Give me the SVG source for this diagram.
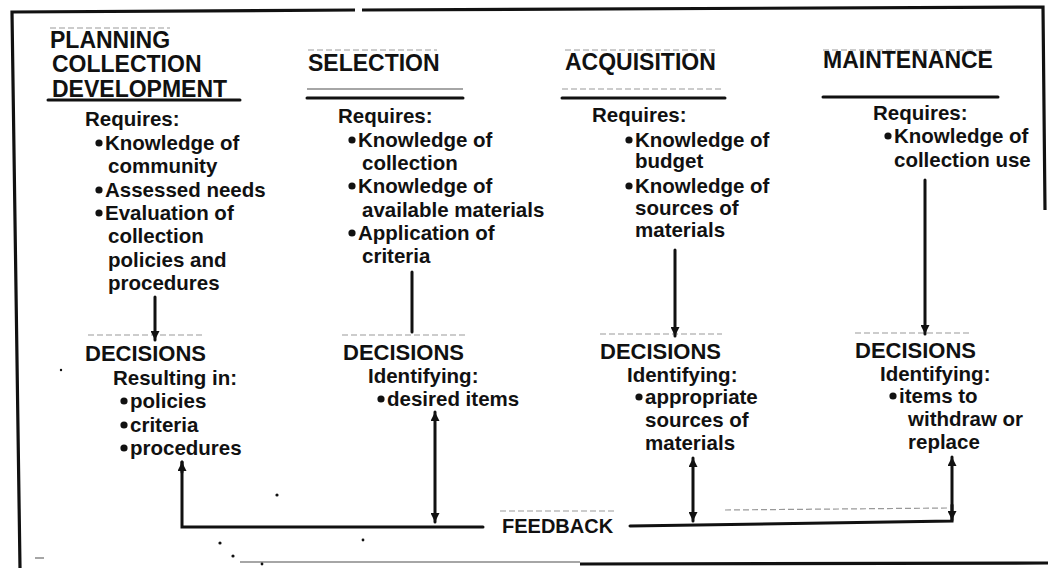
<svg xmlns="http://www.w3.org/2000/svg" width="1050" height="568" viewBox="0 0 1050 568">
<defs>
<style>
text{font-family:"Liberation Sans",Arial,sans-serif;font-weight:bold;fill:#111}
.h{font-size:23px}
.d{font-size:22px}
.b{font-size:20.5px}
.fb{font-size:20px}
.ln{stroke:#111;stroke-width:3;fill:none;stroke-linecap:round}
.bd{stroke:#111;stroke-width:3.2;fill:none}
.gr{stroke:#999;stroke-width:1.2;fill:none;stroke-dasharray:6 3}
.gs{stroke:#888;stroke-width:1.5;fill:none}
.dot{fill:#111}
</style>
<marker id="ah" viewBox="0 0 10 10" refX="10" refY="5" markerWidth="15" markerHeight="9" markerUnits="userSpaceOnUse" orient="auto-start-reverse">
<path d="M0,0 L10,5 L0,10 z" fill="#111"/>
</marker>
</defs>
<rect width="1050" height="568" fill="#fff"/>

<g id="frame">
<path class="bd" d="M20,568 L12,12 L355,10"/>
<path class="bd" d="M362,10 L1043,7 L1045,210"/>
<path class="gs" d="M240,562 L580,562"/>
<path class="bd" d="M580,564 L1048,563"/>
<path class="gs" d="M35,558 L44,558"/>
<circle class="dot" cx="277" cy="495" r="1.6"/>
<circle class="dot" cx="220" cy="543" r="1.6"/>
<circle class="dot" cx="233" cy="556" r="1.6"/>
<circle class="dot" cx="262" cy="564" r="1.4"/>
<circle class="dot" cx="363" cy="540" r="1.4"/>
<circle class="dot" cx="61" cy="370" r="1.2"/>
</g>

<g id="guides">
<path class="gr" d="M50,28 L170,28"/>
<path class="gr" d="M308,50 L437,50"/>
<path class="gr" d="M565,50 L717,50"/>
<path class="gr" d="M823,50 L993,50"/>
<path class="gs" d="M307,89 L463,89"/>
<path class="gr" d="M562,89 L723,89"/>
<path class="gr" d="M88,335 L205,335"/>
<path class="gr" d="M342,335 L465,335"/>
<path class="gr" d="M600,334 L722,334"/>
<path class="gr" d="M855,333 L972,333"/>
<path class="gr" d="M500,511 L616,511"/>
<path class="gr" d="M725,510 L949,508"/>
</g>

<g id="planning">
<text class="h" x="50" y="48">PLANNING</text>
<text class="h" x="52" y="72">COLLECTION</text>
<text class="h" x="52" y="97">DEVELOPMENT</text>
<path class="ln" d="M48,100 L240,100"/>
<text class="b" x="85" y="126">Requires:</text>
<circle class="dot" cx="99" cy="143" r="3.6"/>
<text class="b" x="105" y="150">Knowledge of</text>
<text class="b" x="108" y="173">community</text>
<circle class="dot" cx="99" cy="190" r="3.6"/>
<text class="b" x="105" y="197">Assessed needs</text>
<circle class="dot" cx="99" cy="213" r="3.6"/>
<text class="b" x="105" y="220">Evaluation of</text>
<text class="b" x="108" y="243">collection</text>
<text class="b" x="108" y="267">policies and</text>
<text class="b" x="108" y="290">procedures</text>
<text class="d" x="85" y="361">DECISIONS</text>
<text class="b" x="113" y="385">Resulting in:</text>
<circle class="dot" cx="124" cy="401" r="3.6"/>
<text class="b" x="130" y="408">policies</text>
<circle class="dot" cx="124" cy="425" r="3.6"/>
<text class="b" x="130" y="432">criteria</text>
<circle class="dot" cx="124" cy="448" r="3.6"/>
<text class="b" x="130" y="455">procedures</text>
</g>

<g id="selection">
<text class="h" x="308" y="71">SELECTION</text>
<path class="ln" d="M307,98 L463,98"/>
<text class="b" x="338" y="123">Requires:</text>
<circle class="dot" cx="352" cy="140" r="3.6"/>
<text class="b" x="358" y="147">Knowledge of</text>
<text class="b" x="362" y="170">collection</text>
<circle class="dot" cx="352" cy="186" r="3.6"/>
<text class="b" x="358" y="193">Knowledge of</text>
<text class="b" x="362" y="217">available materials</text>
<circle class="dot" cx="352" cy="233" r="3.6"/>
<text class="b" x="358" y="240">Application of</text>
<text class="b" x="362" y="263">criteria</text>
<text class="d" x="343" y="360">DECISIONS</text>
<text class="b" x="368" y="383">Identifying:</text>
<circle class="dot" cx="381" cy="399" r="3.6"/>
<text class="b" x="387" y="406">desired items</text>
</g>

<g id="acquisition">
<text class="h" x="565" y="70">ACQUISITION</text>
<path class="ln" d="M562,98 L725,98"/>
<text class="b" x="592" y="122">Requires:</text>
<circle class="dot" cx="629" cy="140" r="3.6"/>
<text class="b" x="635" y="147">Knowledge of</text>
<text class="b" x="635" y="168">budget</text>
<circle class="dot" cx="629" cy="186" r="3.6"/>
<text class="b" x="635" y="193">Knowledge of</text>
<text class="b" x="635" y="215">sources of</text>
<text class="b" x="635" y="237">materials</text>
<text class="d" x="600" y="359">DECISIONS</text>
<text class="b" x="627" y="382">Identifying:</text>
<circle class="dot" cx="639" cy="397" r="3.6"/>
<text class="b" x="645" y="404">appropriate</text>
<text class="b" x="645" y="427">sources of</text>
<text class="b" x="645" y="450">materials</text>
</g>

<g id="maintenance">
<text class="h" x="823" y="68">MAINTENANCE</text>
<path class="ln" d="M823,97 L998,97"/>
<text class="b" x="873" y="120">Requires:</text>
<circle class="dot" cx="888" cy="136" r="3.6"/>
<text class="b" x="894" y="143">Knowledge of</text>
<text class="b" x="894" y="167">collection use</text>
<text class="d" x="855" y="358">DECISIONS</text>
<text class="b" x="880" y="381">Identifying:</text>
<circle class="dot" cx="893" cy="396" r="3.6"/>
<text class="b" x="899" y="403">items to</text>
<text class="b" x="908" y="426">withdraw or</text>
<text class="b" x="908" y="449">replace</text>
</g>

<g id="feedback">
<text class="fb" x="502" y="533">FEEDBACK</text>
</g>

<g id="connectors">
<path class="ln" d="M155,297 L155,340" marker-end="url(#ah)"/>
<path class="ln" d="M412,272 L412,332"/>
<path class="ln" d="M675,250 L675,336" marker-end="url(#ah)"/>
<path class="ln" d="M925,180 L925,334" marker-end="url(#ah)"/>
<path class="ln" d="M182,462 L182,527 L483,527"/>
<path class="ln" d="M182,472 L182,462" marker-end="url(#ah)"/>
<path class="ln" d="M435,412 L435,522" marker-start="url(#ah)" marker-end="url(#ah)"/>
<path class="ln" d="M630,526 L952,521 L952,457" marker-end="url(#ah)"/>
<path class="ln" d="M952,505 L952,520" marker-end="url(#ah)"/>
<path class="ln" d="M693,458 L693,521" marker-start="url(#ah)" marker-end="url(#ah)"/>
</g>
</svg>
